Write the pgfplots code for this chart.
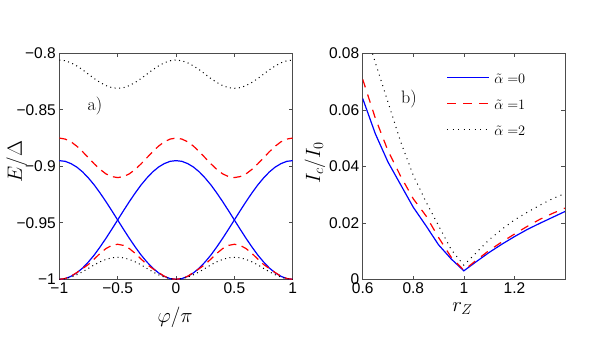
\documentclass[border=0pt]{standalone}
\usepackage{fontspec}
\usepackage{pgfplots}
\pgfplotsset{compat=1.18}
\usepackage{pgfplotstable}
\newfontfamily\helv{Liberation Sans}

% Andreev levels vs phase: two blue branches, upper/lower red and black bands
\pgfplotstableread{
phi   A       B       R1      R2      K1      K2
-1.00 -1.0000 -0.8950 -0.8750 -1.0000 -0.8060 -1.0000
-0.95 -0.9994 -0.8956 -0.8759 -0.9993 -0.8066 -0.9995
-0.90 -0.9974 -0.8976 -0.8783 -0.9973 -0.8084 -0.9981
-0.85 -0.9943 -0.9007 -0.8822 -0.9940 -0.8112 -0.9960
-0.80 -0.9900 -0.9050 -0.8871 -0.9905 -0.8146 -0.9933
-0.75 -0.9846 -0.9104 -0.8925 -0.9868 -0.8185 -0.9903
-0.70 -0.9784 -0.9166 -0.8979 -0.9820 -0.8224 -0.9872
-0.65 -0.9713 -0.9237 -0.9028 -0.9770 -0.8258 -0.9845
-0.60 -0.9637 -0.9313 -0.9067 -0.9728 -0.8286 -0.9824
-0.55 -0.9557 -0.9393 -0.9091 -0.9700 -0.8304 -0.9810
-0.50 -0.9475 -0.9475 -0.9100 -0.9690 -0.8310 -0.9805
-0.45 -0.9393 -0.9557 -0.9091 -0.9700 -0.8304 -0.9810
-0.40 -0.9313 -0.9637 -0.9067 -0.9728 -0.8286 -0.9824
-0.35 -0.9237 -0.9713 -0.9028 -0.9770 -0.8258 -0.9845
-0.30 -0.9166 -0.9784 -0.8979 -0.9820 -0.8224 -0.9872
-0.25 -0.9104 -0.9846 -0.8925 -0.9868 -0.8185 -0.9903
-0.20 -0.9050 -0.9900 -0.8871 -0.9905 -0.8146 -0.9933
-0.15 -0.9007 -0.9943 -0.8822 -0.9940 -0.8112 -0.9960
-0.10 -0.8976 -0.9974 -0.8783 -0.9973 -0.8084 -0.9981
-0.05 -0.8956 -0.9994 -0.8759 -0.9993 -0.8066 -0.9995
 0.00 -0.8950 -1.0000 -0.8750 -1.0000 -0.8060 -1.0000
 0.05 -0.8956 -0.9994 -0.8759 -0.9993 -0.8066 -0.9995
 0.10 -0.8976 -0.9974 -0.8783 -0.9973 -0.8084 -0.9981
 0.15 -0.9007 -0.9943 -0.8822 -0.9940 -0.8112 -0.9960
 0.20 -0.9050 -0.9900 -0.8871 -0.9905 -0.8146 -0.9933
 0.25 -0.9104 -0.9846 -0.8925 -0.9868 -0.8185 -0.9903
 0.30 -0.9166 -0.9784 -0.8979 -0.9820 -0.8224 -0.9872
 0.35 -0.9237 -0.9713 -0.9028 -0.9770 -0.8258 -0.9845
 0.40 -0.9313 -0.9637 -0.9067 -0.9728 -0.8286 -0.9824
 0.45 -0.9393 -0.9557 -0.9091 -0.9700 -0.8304 -0.9810
 0.50 -0.9475 -0.9475 -0.9100 -0.9690 -0.8310 -0.9805
 0.55 -0.9557 -0.9393 -0.9091 -0.9700 -0.8304 -0.9810
 0.60 -0.9637 -0.9313 -0.9067 -0.9728 -0.8286 -0.9824
 0.65 -0.9713 -0.9237 -0.9028 -0.9770 -0.8258 -0.9845
 0.70 -0.9784 -0.9166 -0.8979 -0.9820 -0.8224 -0.9872
 0.75 -0.9846 -0.9104 -0.8925 -0.9868 -0.8185 -0.9903
 0.80 -0.9900 -0.9050 -0.8871 -0.9905 -0.8146 -0.9933
 0.85 -0.9943 -0.9007 -0.8822 -0.9940 -0.8112 -0.9960
 0.90 -0.9974 -0.8976 -0.8783 -0.9973 -0.8084 -0.9981
 0.95 -0.9994 -0.8956 -0.8759 -0.9993 -0.8066 -0.9995
 1.00 -1.0000 -0.8950 -0.8750 -1.0000 -0.8060 -1.0000
}\levels

% critical current vs r_Z for three alpha values
\pgfplotstableread{
r    a0     a1     a2
0.60 0.0640 0.0708 0.0910
0.65 0.0515 0.0570 0.0767
0.70 0.0415 0.0455 0.0627
0.75 0.0335 0.0365 0.0487
0.80 0.0255 0.0285 0.0368
0.85 0.0190 0.0225 0.0275
0.90 0.0122 0.0148 0.0190
0.95 0.0072 0.0078 0.0105
1.00 0.0030 0.0032 0.0050
1.05 0.0063 0.0068 0.0095
1.10 0.0095 0.0102 0.0140
1.15 0.0124 0.0132 0.0177
1.20 0.0151 0.0160 0.0210
1.25 0.0176 0.0187 0.0237
1.30 0.0198 0.0212 0.0262
1.35 0.0219 0.0233 0.0285
1.40 0.0240 0.0252 0.0304
}\current

\pgfplotsset{
  panel/.style={
    anchor=south west, scale only axis,
    height=226bp,
    axis line style={black!70, line width=0.8bp},
    tick style={black!70, line width=0.6bp},
    major tick length=3.5bp, tick align=inside,
    scaled ticks=false,
    ticklabel style={font=\helv\fontsize{15.5bp}{18bp}\selectfont},
    label style={font=\fontsize{21bp}{24bp}\selectfont},
    clip=true,
  },
  bl/.style={blue, line width=1.2bp},
  rd/.style={red, line width=1.2bp, dash pattern=on 8bp off 5.5bp},
  dt/.style={black, line width=1bp, dash pattern=on 1bp off 3.5bp},
}
\tikzset{legtxt/.style={anchor=base west, inner sep=0pt, text=black,
  font=\fontsize{14bp}{17bp}\selectfont}}

\begin{document}
\begin{tikzpicture}
\path[use as bounding box] (0bp,0bp) rectangle (591bp,354bp);

\begin{axis}[panel,
  at={(59.3bp,74.7bp)}, width=233.4bp,
  xmin=-1, xmax=1, ymin=-1, ymax=-0.8,
  xtick={-1,-0.5,0,0.5,1},
  xticklabels={−1,−0.5,0,0.5,1},
  ytick={-1,-0.95,-0.9,-0.85,-0.8},
  yticklabels={−1,−0.95,−0.9,−0.85,−0.8},
  xlabel={$\varphi/\pi$}, ylabel={$E/\Delta$},
  xlabel style={at={(axis description cs:0.496,-0.167)}, anchor=center},
  ylabel style={at={(axis description cs:-0.1825,0.52)}, anchor=center},
]
\addplot[bl] table[x=phi, y=A] {\levels};
\addplot[bl] table[x=phi, y=B] {\levels};
\addplot[rd] table[x=phi, y=R1] {\levels};
\addplot[rd] table[x=phi, y=R2] {\levels};
\addplot[dt] table[x=phi, y=K1] {\levels};
\addplot[dt] table[x=phi, y=K2] {\levels};
\node[font=\fontsize{18bp}{21bp}\selectfont] at (axis cs:-0.694,-0.847) {a)};
\end{axis}

\begin{axis}[panel,
  at={(362.7bp,74.7bp)}, width=202.3bp,
  xmin=0.6, xmax=1.4, ymin=0, ymax=0.08,
  xtick={0.6,0.8,1,1.2},
  xticklabels={0.6,0.8,1,1.2},
  ytick={0,0.02,0.04,0.06,0.08},
  yticklabels={0,0.02,0.04,0.06,0.08},
  xlabel={$r_Z$}, ylabel={$I_c/I_0$},
  xlabel style={at={(axis description cs:0.493,-0.131)}, anchor=center},
  ylabel style={at={(axis description cs:-0.236,0.515)}, anchor=center},
]
\addplot[blue, line width=1.2bp] table[x=r, y=a0] {\current};
\addplot[red, line width=1.2bp, dash pattern=on 8.5bp off 7.5bp] table[x=r, y=a1] {\current};
\addplot[black, line width=1bp, dash pattern=on 1bp off 4.5bp] table[x=r, y=a2] {\current};
% legend sample lines (plain \addplot keeps the colours)
\addplot[blue, line width=1.2bp] coordinates {(0.9336,0.0715) (1.0997,0.0715)};
\addplot[red, line width=1.2bp, dash pattern=on 8.5bp off 7.5bp] coordinates {(0.9336,0.0623) (1.0997,0.0623)};
\addplot[black, line width=1bp, dash pattern=on 1bp off 4.5bp] coordinates {(0.9336,0.0531) (1.0997,0.0531)};
\node[legtxt] at ([xshift=47bp, yshift=-6.5bp]axis description cs:0.417,0.894) {$\tilde{\alpha}\;{=}0$};
\node[legtxt] at ([xshift=47bp, yshift=-6.5bp]axis description cs:0.417,0.779) {$\tilde{\alpha}\;{=}1$};
\node[legtxt] at ([xshift=47bp, yshift=-6.5bp]axis description cs:0.417,0.664) {$\tilde{\alpha}\;{=}2$};
\node[font=\fontsize{18bp}{21bp}\selectfont] at (axis cs:0.783,0.0638) {b)};
\end{axis}
\end{tikzpicture}
\end{document}
